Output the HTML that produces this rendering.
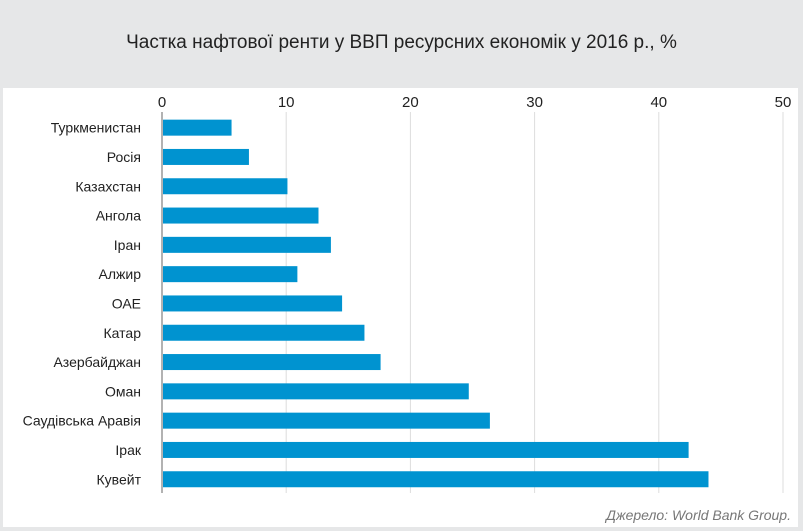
<!DOCTYPE html>
<html><head><meta charset="utf-8">
<style>
body{margin:0;width:803px;height:531px;background:#e6e7e8;font-family:"Liberation Sans",sans-serif;overflow:hidden}
#title{position:absolute;top:32px;left:0;width:803px;text-align:center;font-size:19px;color:#222}
#panel{position:absolute;left:3px;top:88px;width:795px;height:439px;background:#fff}
#src{position:absolute;right:12px;bottom:8px;font-style:italic;font-size:14px;color:#777}
svg{position:absolute;left:0;top:0}
</style></head><body>
<div id="title">Частка нафтової ренти у ВВП ресурсних економік у 2016 р., %</div>
<div id="panel"></div>
<svg id="chart" width="803" height="531"></svg>
<div id="src">Джерело: World Bank Group.</div>
<script>
const categories=["Туркменистан","Росія","Казахстан","Ангола","Іран","Алжир","ОАЕ","Катар","Азербайджан","Оман","Саудівська Аравія","Ірак","Кувейт"];
const values=[5.6,7.0,10.1,12.6,13.6,10.9,14.5,16.3,17.6,24.7,26.4,42.4,44.0];
const ticks=[0,10,20,30,40,50];
const svg=document.getElementById('chart');
const NS='http://www.w3.org/2000/svg';
const x0=162,x1=783,plotTop=112,plotBottom=493,rowTop=113,rowH=29.3,barH=16;
const xs=v=>x0+(v-0)/(50-0)*(x1-x0);
const ys=i=>rowTop+rowH*i+rowH/2;
function mk(t,a){const e=document.createElementNS(NS,t);for(const k in a)e.setAttribute(k,a[k]);svg.appendChild(e);return e;}
ticks.forEach(t=>{
 const g=mk('line',{x1:xs(t),x2:xs(t),y1:plotTop,y2:plotBottom,stroke:t===0?'#666':'#ddd','stroke-width':1});
 
 
 const l=mk('text',{x:xs(t),y:107,'text-anchor':'middle','font-size':15,fill:'#222','font-family':'Liberation Sans, sans-serif'});
 l.textContent=t;
 
 
});
categories.forEach((c,i)=>{
 const r=mk('rect',{x:xs(0)+1,y:ys(i)-barH/2,width:xs(values[i])-xs(0)-1,height:barH,fill:'#0093d0'});
 
 
 const l=mk('text',{x:141,y:ys(i)+5,'text-anchor':'end','font-size':14,fill:'#222','font-family':'Liberation Sans, sans-serif'});
 l.textContent=c;
 
 
});
</script>
</body></html>
